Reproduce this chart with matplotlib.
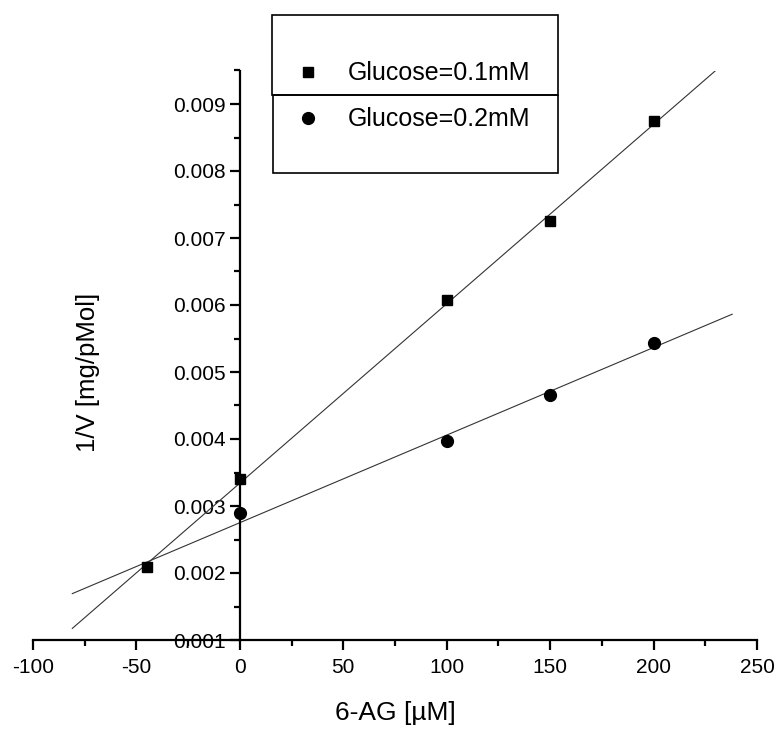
import numpy as np
import matplotlib
matplotlib.use("Agg")
import matplotlib.pyplot as plt
from matplotlib.patches import Rectangle
from matplotlib.lines import Line2D
from matplotlib.ticker import MultipleLocator

plt.rcParams['font.family'] = ['Liberation Sans', 'DejaVu Sans']
plt.rcParams['axes.unicode_minus'] = False

# data
ag = [0, 100, 150, 200]                      # 6-AG [uM]
inv_v_01 = [0.00340, 0.00607, 0.00725, 0.00874]  # Glucose=0.1mM
inv_v_02 = [0.00290, 0.00397, 0.00465, 0.00544]  # Glucose=0.2mM
cross_x = -45        # common point of both lines
cross_y = 0.00209
fit_range_01 = (-81, 230)
fit_range_02 = (-81, 238)

fig = plt.figure(figsize=(7.74, 7.29), dpi=100)
ax = fig.add_axes([33/774, 1-640/729, 724/774, 569.5/729])

# fit lines (both go through the common point)
x1 = np.array([cross_x] + ag)
y1 = np.array([cross_y] + inv_v_01)
y2 = np.array([cross_y] + inv_v_02)
p1 = np.polyfit(x1, y1, 1)
p2 = np.polyfit(x1, y2, 1)
xx1 = np.array(fit_range_01)
xx2 = np.array(fit_range_02)
ax.plot(xx1, np.polyval(p1, xx1), color='#333333', lw=0.8)
ax.plot(xx2, np.polyval(p2, xx2), color='#333333', lw=0.8)

ax.plot(ag, inv_v_02, 'o', color='black', ms=8.5, zorder=3)
ax.plot(ag, inv_v_01, 's', color='black', ms=7, zorder=4)
ax.plot([cross_x], [cross_y], 's', color='black', ms=7, zorder=4)

ax.set_xlim(-100, 250)
ax.set_ylim(0.001, 0.0095)
ax.spines['top'].set_visible(False)
ax.spines['right'].set_visible(False)
ax.spines['left'].set_position(('data', 0))
ax.spines['left'].set_linewidth(1.6)
ax.spines['bottom'].set_linewidth(1.6)

ax.xaxis.set_major_locator(MultipleLocator(50))
ax.xaxis.set_minor_locator(MultipleLocator(25))
ax.yaxis.set_minor_locator(MultipleLocator(0.0005))
ax.set_yticks([0.001, 0.002, 0.003, 0.004, 0.005, 0.006, 0.007, 0.008, 0.009])
ax.set_yticklabels(['0.001', '0.002', '0.003', '0.004', '0.005', '0.006', '0.007', '0.008', '0.009'])
ax.tick_params(which='major', direction='out', length=7, width=1.6, labelsize=15)
ax.tick_params(which='minor', direction='out', length=4, width=1.6)
ax.tick_params(axis='x', pad=6)

ax.set_xlabel('6-AG [µM]', fontsize=19, labelpad=17)
ax.set_ylabel('1/V [mg/pMol]', fontsize=18.5)
ax.yaxis.set_label_coords(0.0925, 0.47)

# legend boxes
fig.add_artist(Rectangle((272/774, 1-95/729), 286/774, 80/729, transform=fig.transFigure,
                         fill=False, edgecolor='black', lw=1.2))
fig.add_artist(Rectangle((273/774, 1-173/729), 285/774, 78/729, transform=fig.transFigure,
                         fill=False, edgecolor='black', lw=1.2))
handles = [Line2D([], [], ls='none', marker='s', color='black', ms=7),
           Line2D([], [], ls='none', marker='o', color='black', ms=8.5)]
fig.legend(handles, ['Glucose=0.1mM', 'Glucose=0.2mM'], loc='upper left',
           bbox_to_anchor=(283/774, 1-49/729), frameon=False, fontsize=18,
           borderpad=0, handlelength=1.0, handletextpad=1.1, labelspacing=0.88)

fig.savefig('out.png', dpi=100)
